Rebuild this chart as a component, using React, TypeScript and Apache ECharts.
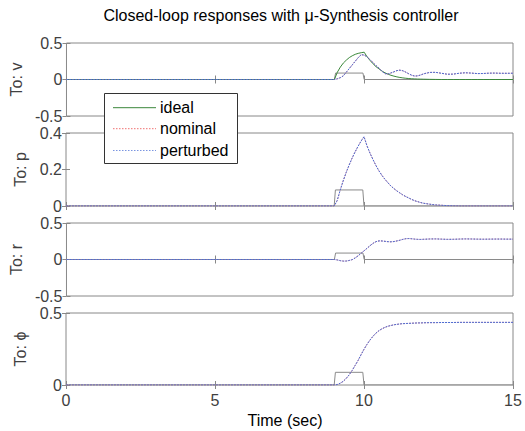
import React, { useEffect, useRef } from "react";
import * as echarts from "echarts";

// time samples (sec)
const T = [0, 9, 9.1, 9.2, 9.3, 9.4, 9.5, 9.6, 9.7, 9.8, 9.9, 10, 10.1, 10.2, 10.3, 10.4, 10.5, 10.6, 10.7, 10.8, 10.9, 11, 11.1, 11.2, 11.3, 11.4, 11.5, 11.6, 11.7, 11.8, 11.9, 12, 12.2, 12.4, 12.6, 12.8, 13, 13.2, 13.4, 13.6, 13.8, 14, 14.2, 14.4, 14.6, 14.8, 15];

// input pulse (gray)
const pulseT = [0, 9, 9.04, 9.96, 10, 15];
const pulseV = [0, 0, 0.088, 0.088, 0, 0];

// To: v
const vIdeal = [0, 0, 0.1, 0.17, 0.225, 0.265, 0.3, 0.325, 0.345, 0.358, 0.367, 0.374, 0.31, 0.26, 0.215, 0.175, 0.145, 0.115, 0.092, 0.073, 0.058, 0.046, 0.036, 0.028, 0.022, 0.017, 0.013, 0.01, 0.008, 0.006, 0.005, 0.004, 0.002, 0.001, 0, 0, 0, 0, 0, 0, 0, 0, 0, 0, 0, 0, 0];
const vNominal = [0, 0, 0.01, 0.025, 0.05, 0.1, 0.15, 0.2, 0.25, 0.3, 0.34, 0.335, 0.31, 0.27, 0.23, 0.19, 0.155, 0.112, 0.08, 0.075, 0.09, 0.105, 0.122, 0.128, 0.12, 0.1, 0.078, 0.058, 0.047, 0.05, 0.062, 0.078, 0.097, 0.098, 0.085, 0.072, 0.074, 0.086, 0.092, 0.088, 0.081, 0.082, 0.087, 0.088, 0.085, 0.085, 0.086];
const vPerturbed = [0, 0, 0.01, 0.025, 0.05, 0.1, 0.15, 0.2, 0.25, 0.3, 0.34, 0.335, 0.31, 0.27, 0.23, 0.19, 0.155, 0.112, 0.08, 0.075, 0.09, 0.105, 0.122, 0.128, 0.12, 0.1, 0.078, 0.058, 0.047, 0.05, 0.062, 0.078, 0.097, 0.098, 0.085, 0.072, 0.074, 0.086, 0.092, 0.088, 0.081, 0.082, 0.087, 0.088, 0.085, 0.085, 0.086];

// To: p
const pNominal = [0, 0, 0.03, 0.086, 0.137, 0.183, 0.224, 0.262, 0.296, 0.327, 0.355, 0.38, 0.33, 0.29, 0.255, 0.222, 0.193, 0.168, 0.147, 0.128, 0.11, 0.096, 0.083, 0.072, 0.061, 0.052, 0.044, 0.036, 0.029, 0.024, 0.019, 0.015, 0.01, 0.006, 0.004, 0.002, 0.001, 0, 0, 0, 0, 0, 0, 0, 0, 0, 0];
const pPerturbed = [0, 0, 0.03, 0.086, 0.137, 0.183, 0.224, 0.262, 0.296, 0.327, 0.355, 0.38, 0.33, 0.29, 0.255, 0.222, 0.193, 0.168, 0.147, 0.128, 0.11, 0.096, 0.083, 0.072, 0.061, 0.052, 0.044, 0.036, 0.029, 0.024, 0.019, 0.015, 0.01, 0.006, 0.004, 0.002, 0.001, 0, 0, 0, 0, 0, 0, 0, 0, 0, 0];

// To: r
const rNominal = [0, 0, -0.006, -0.016, -0.022, -0.021, -0.013, -0.002, 0.022, 0.052, 0.086, 0.12, 0.155, 0.19, 0.222, 0.245, 0.255, 0.254, 0.249, 0.244, 0.242, 0.246, 0.254, 0.264, 0.276, 0.285, 0.287, 0.284, 0.279, 0.276, 0.275, 0.277, 0.281, 0.282, 0.279, 0.276, 0.277, 0.28, 0.282, 0.281, 0.279, 0.278, 0.279, 0.28, 0.28, 0.279, 0.279];
const rPerturbed = [0, 0, -0.006, -0.016, -0.022, -0.021, -0.013, -0.002, 0.022, 0.052, 0.086, 0.12, 0.155, 0.19, 0.222, 0.245, 0.255, 0.254, 0.249, 0.244, 0.242, 0.246, 0.254, 0.264, 0.276, 0.285, 0.287, 0.284, 0.279, 0.276, 0.275, 0.277, 0.281, 0.282, 0.279, 0.276, 0.277, 0.28, 0.282, 0.281, 0.279, 0.278, 0.279, 0.28, 0.28, 0.279, 0.279];

// To: phi
const phiNominal = [0, 0, 0.003, 0.012, 0.025, 0.045, 0.07, 0.1, 0.135, 0.17, 0.21, 0.248, 0.282, 0.312, 0.338, 0.36, 0.377, 0.39, 0.4, 0.408, 0.413, 0.418, 0.421, 0.424, 0.426, 0.427, 0.428, 0.429, 0.43, 0.431, 0.431, 0.432, 0.433, 0.433, 0.434, 0.434, 0.434, 0.435, 0.435, 0.435, 0.435, 0.435, 0.435, 0.435, 0.435, 0.435, 0.435];
const phiPerturbed = [0, 0, 0.003, 0.012, 0.025, 0.045, 0.07, 0.1, 0.135, 0.17, 0.21, 0.248, 0.282, 0.312, 0.338, 0.36, 0.377, 0.39, 0.4, 0.408, 0.413, 0.418, 0.421, 0.424, 0.426, 0.427, 0.428, 0.429, 0.43, 0.431, 0.431, 0.432, 0.433, 0.433, 0.434, 0.434, 0.434, 0.435, 0.435, 0.435, 0.435, 0.435, 0.435, 0.435, 0.435, 0.435, 0.435];

const xTicks = { min: 0, max: 15, interval: 5 };
const panelNames = ["To: v", "To: p", "To: r", "To: \u03d5"];
const yRanges = [
  { min: -0.5, max: 0.5, interval: 0.5 },
  { min: 0, max: 0.4, interval: 0.2 },
  { min: -0.5, max: 0.5, interval: 0.5 },
  { min: 0, max: 0.5, interval: 0.5 },
];
const legendNames = ["ideal", "nominal", "perturbed"];
const titleText = "Closed-loop responses with \u03bc-Synthesis controller";
const xLabelText = "Time (sec)";

const FONT = '"Liberation Sans", Arial, sans-serif';
const AX = "#888888";
const LBL = "#404040";
const GREEN = "#3a873a";
const RED = "#f07070";
const BLUE = "#4a6ed6";
const GRAY = "#8a8a8a";

const pair = (xs: number[], ys: number[]) => xs.map((x, i) => [x, ys[i]]);

export default function App() {
  const ref = useRef<HTMLDivElement>(null);
  useEffect(() => {
    const chart = echarts.init(ref.current!, null, { renderer: "svg" });
    const tops = [43, 133, 223, 313];
    const heights = [73, 73, 73, 72];
    const grid = tops.map((t, i) => ({
      left: 66,
      width: 447,
      top: t,
      height: heights[i],
      show: true,
      borderColor: AX,
      borderWidth: 1,
      backgroundColor: "transparent",
    }));
    const tick = { show: true, inside: true, length: 4, lineStyle: { color: AX, width: 1 } };
    const xAxis: any[] = [];
    const yAxis: any[] = [];
    for (let i = 0; i < 4; i++) {
      xAxis.push({
        type: "value", gridIndex: i, ...xTicks, position: "bottom",
        axisLine: { show: false }, axisTick: tick, splitLine: { show: false },
        axisLabel: { show: i === 3, color: LBL, fontSize: 16, fontFamily: FONT, margin: 7 },
      });
    }
    for (let i = 0; i < 4; i++) {
      xAxis.push({
        type: "value", gridIndex: i, ...xTicks, position: "top",
        axisLine: { show: false }, axisTick: tick, splitLine: { show: false },
        axisLabel: { show: false },
      });
    }
    for (let i = 0; i < 4; i++) {
      yAxis.push({
        type: "value", gridIndex: i, ...yRanges[i], position: "left",
        axisLine: { show: false }, axisTick: tick, splitLine: { show: false },
        axisLabel: { color: LBL, fontSize: 16, fontFamily: FONT, margin: 4, showMinLabel: true, showMaxLabel: true },
        name: panelNames[i], nameLocation: "middle", nameGap: 38,
        nameTextStyle: { color: LBL, fontSize: 16, fontFamily: FONT },
      });
    }
    for (let i = 0; i < 4; i++) {
      yAxis.push({
        type: "value", gridIndex: i, ...yRanges[i], position: "right",
        axisLine: { show: false }, axisTick: tick, splitLine: { show: false },
        axisLabel: { show: false },
      });
    }
    const line = (i: number, data: any[], color: string, dash: any, z: number) => ({
      type: "line", xAxisIndex: i, yAxisIndex: i, data, symbol: "none", showSymbol: false,
      silent: true, z, lineStyle: { color, width: 1, type: dash },
    });
    const series: any[] = [];
    const nominals = [vNominal, pNominal, rNominal, phiNominal];
    const perturbeds = [vPerturbed, pPerturbed, rPerturbed, phiPerturbed];
    for (let i = 0; i < 4; i++) {
      series.push(line(i, pair(pulseT, pulseV), GRAY, "solid", 2));
      if (i === 0) series.push(line(i, pair(T, vIdeal), GREEN, "solid", 3));
      series.push(line(i, pair(T, nominals[i]), RED, [1.5, 1.5], 4));
      series.push(line(i, pair(T, perturbeds[i]), BLUE, [2, 1], 5));
    }
    const lx = 104.5, ly = 93.5, lw = 133, lh = 70;
    const rows = [107.7, 128.7, 150.5];
    const legendStyles = [
      { color: GREEN, dash: null },
      { color: RED, dash: [1.5, 1.5] },
      { color: "#7a95e0", dash: [1.5, 1.5] },
    ];
    const legendChildren: any[] = [
      { type: "rect", shape: { x: lx, y: ly, width: lw, height: lh }, style: { fill: "#ffffff", stroke: "#333333", lineWidth: 1 } },
    ];
    legendNames.forEach((n, k) => {
      legendChildren.push({
        type: "line",
        shape: { x1: 113, y1: rows[k], x2: 156, y2: rows[k] },
        style: { stroke: legendStyles[k].color, lineWidth: 1, lineDash: legendStyles[k].dash },
      });
      legendChildren.push({
        type: "text", x: 160, y: rows[k],
        style: { text: n, fill: "#000000", fontSize: 16, fontFamily: FONT, textAlign: "left", textVerticalAlign: "middle", align: "left", verticalAlign: "middle" },
      });
    });
    chart.setOption({
      animation: false,
      backgroundColor: "#ffffff",
      grid,
      xAxis,
      yAxis,
      series,
      graphic: [
        {
          type: "text", x: 281, y: 15, z: 50,
          style: { text: titleText, fill: "#000000", fontSize: 16, fontFamily: FONT, textAlign: "center", textVerticalAlign: "middle", align: "center", verticalAlign: "middle" },
        },
        {
          type: "text", x: 285, y: 420, z: 50,
          style: { text: xLabelText, fill: "#000000", fontSize: 16, fontFamily: FONT, textAlign: "center", textVerticalAlign: "middle", align: "center", verticalAlign: "middle" },
        },
        { type: "group", z: 100, children: legendChildren },
      ],
    });
    return () => chart.dispose();
  }, []);
  return <div ref={ref} style={{ position: "fixed", left: 0, top: 0, width: 525, height: 431 }} />;
}
